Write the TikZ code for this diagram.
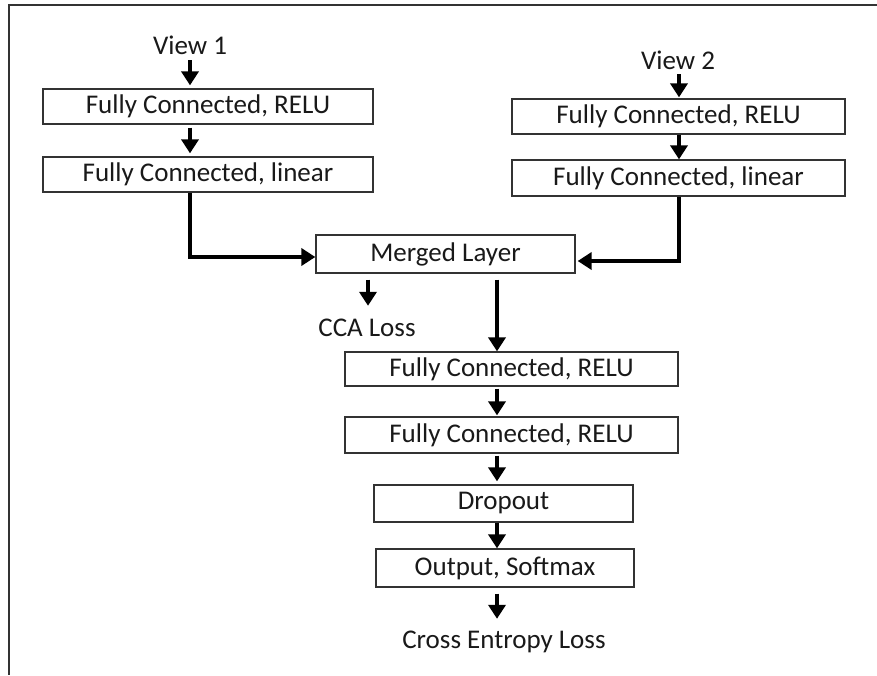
\documentclass[tikz,border=0pt]{standalone}
\usepackage{fontspec}
\setmainfont{Carlito}
\usetikzlibrary{arrows.meta}
\begin{document}
\begin{tikzpicture}[x=1pt,y=-1pt,
  txt/.style={font=\fontsize{27}{31}\selectfont,text=black!90},
  layer/.style={txt,draw=black!80,line width=1.3pt,fill=white,inner sep=0pt},
  lbl/.style={txt,inner sep=0pt,text height=16pt,text depth=5pt},
  flow/.style={line width=4.8pt,-{Triangle[width=17pt,length=14pt]}},
  frame/.style={draw=black!80,line width=2pt}]
\useasboundingbox (0,0) rectangle (877,675);
% outer frame (top and left edges only)
\draw[frame] (877,5) -- (9,5) -- (9,675);

% view 1 branch
\node[lbl] (v1) at (190,48.5) {View 1};
\node[layer,minimum width=330pt,minimum height=35pt] (l1) at (208,106.5) {Fully Connected, RELU};
\node[layer,minimum width=330pt,minimum height=35pt] (l2) at (208,174.5) {Fully Connected, linear};

% view 2 branch
\node[lbl] (v2) at (678,63.5) {View 2};
\node[layer,minimum width=333pt,minimum height=35pt] (r1) at (678.5,116.5) {Fully Connected, RELU};
\node[layer,minimum width=333pt,minimum height=36pt] (r2) at (678.5,178) {Fully Connected, linear};

% merge and heads
\node[layer,minimum width=259pt,minimum height=38pt] (mg) at (445.5,254) {Merged Layer};
\node[lbl] (cca) at (367,330.5) {CCA Loss};
\node[layer,minimum width=333pt,minimum height=34pt] (m1) at (511.5,369) {Fully Connected, RELU};
\node[layer,minimum width=333pt,minimum height=36pt] (m2) at (511.5,435) {Fully Connected, RELU};
\node[layer,minimum width=259pt,minimum height=37pt] (dp) at (503.5,503.5) {Dropout};
\node[layer,minimum width=258pt,minimum height=38pt] (op) at (505,568) {Output, Softmax};
\node[lbl] (ce) at (504,642.5) {Cross Entropy Loss};

% connectors
\coordinate (ax1) at (190,0);
\coordinate (ax2) at (679,0);
\coordinate (ax3) at (368,0);
\coordinate (ax4) at (497,0);
\draw[flow,shorten <=1pt,shorten >=3pt] (v1.south -| ax1) -- (l1.north -| ax1);
\draw[flow,shorten <=3pt,shorten >=3pt] (l1.south -| ax1) -- (l2.north -| ax1);
\draw[flow] (l2.south -| ax1) |- ([yshift=-3pt]mg.west);
\draw[flow,shorten >=1pt] (v2.south -| ax2) -- (r1.north -| ax2);
\draw[flow] (r1.south -| ax2) -- (r2.north -| ax2);
\draw[flow,shorten >=2pt] (r2.south -| ax2) |- ([yshift=-7pt]mg.east);
\draw[flow,shorten <=6pt,shorten >=14pt] (mg.south -| ax3) -- (cca.north -| ax3);
\draw[flow,shorten <=6pt] (mg.south -| ax4) -- (m1.north -| ax4);
\draw[flow,shorten <=2pt,shorten >=1pt] (m1.south -| ax4) -- (m2.north -| ax4);
\draw[flow,shorten <=2pt,shorten >=3pt] (m2.south -| ax4) -- (dp.north -| ax4);
\draw[flow] (dp.south -| ax4) -- (op.north -| ax4);
\draw[flow,shorten <=6pt,shorten >=13pt] (op.south -| ax4) -- (ce.north -| ax4);
\end{tikzpicture}
\end{document}
